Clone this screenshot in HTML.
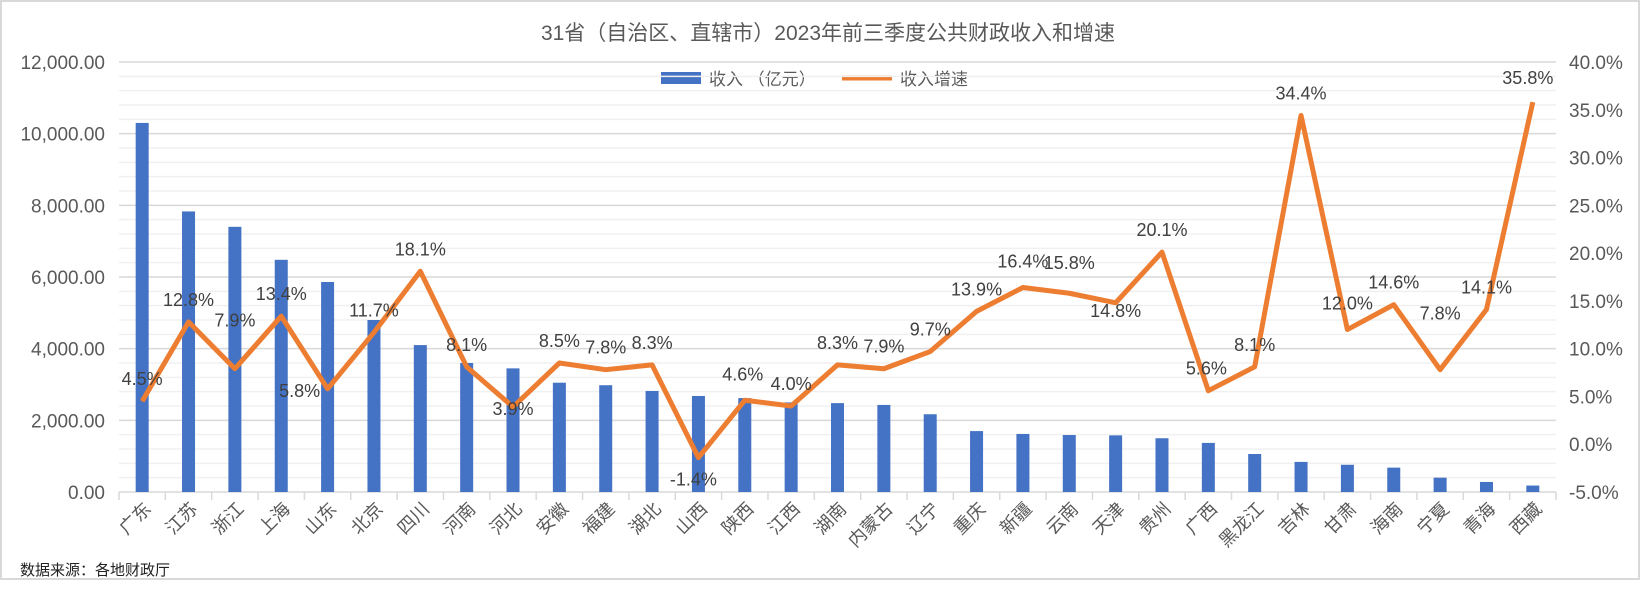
<!DOCTYPE html>
<html><head><meta charset="utf-8"><style>
body{margin:0;background:#fff;width:1641px;height:608px;overflow:hidden}
svg text{font-family:"Liberation Sans","Noto Sans CJK SC",sans-serif}
</style></head><body>
<svg id="chart" width="1641" height="608" xmlns="http://www.w3.org/2000/svg">
<rect x="1" y="1" width="1638" height="578" fill="#fff" stroke="#d9d9d9" stroke-width="2"/>
<text x="828" y="40" text-anchor="middle" font-size="21" fill="#595959">31省（自治区、直辖市）2023年前三季度公共财政收入和增速</text>
<g>
<rect x="661" y="72" width="40" height="12" fill="#4472c4"/>
<text x="709" y="85" font-size="17" fill="#595959">收入 （亿元）</text>
<line x1="842" y1="78" x2="892" y2="78" stroke="#ed7d31" stroke-width="5"/>
<text x="900" y="85" font-size="17" fill="#595959">收入增速</text>
</g>
<text x="20" y="575" font-size="15" fill="#222">数据来源：各地财政厅</text>
</svg>
<script>
const categories=["广东","江苏","浙江","上海","山东","北京","四川","河南","河北","安徽","福建","湖北","山西","陕西","江西","湖南","内蒙古","辽宁","重庆","新疆","云南","天津","贵州","广西","黑龙江","吉林","甘肃","海南","宁夏","青海","西藏"];
const revenue=[10300,7830,7400,6480,5860,4800,4100,3600,3450,3050,2980,2820,2680,2620,2500,2480,2430,2170,1700,1620,1590,1580,1500,1370,1060,840,760,680,400,280,180];
const growth=[4.5,12.8,7.9,13.4,5.8,11.7,18.1,8.1,3.9,8.5,7.8,8.3,-1.4,4.6,4.0,8.3,7.9,9.7,13.9,16.4,15.8,14.8,20.1,5.6,8.1,34.4,12.0,14.6,7.8,14.1,35.8];
const leftTicks=[0,2000,4000,6000,8000,10000,12000];
const rightTicks=[-5,0,5,10,15,20,25,30,35,40];

const svg=document.getElementById('chart');
const NS='http://www.w3.org/2000/svg';
const X0=119,X1=1556,Y0=492,Y1=62;
const slot=(X1-X0)/categories.length;
const xc=i=>X0+slot*(i+0.5);
const yL=v=>Y0-(v/12000)*(Y0-Y1);
const yR=v=>Y0-((v+5)/45)*(Y0-Y1);
function mk(tag,attrs,parent){const e=document.createElementNS(NS,tag);for(const k in attrs)e.setAttribute(k,attrs[k]);(parent||svg).appendChild(e);return e;}
for(let v=400;v<12000;v+=400){if(v%2000===0)continue;
 const l=mk('line',{x1:X0,x2:X1,y1:yL(v),y2:yL(v),stroke:'#f0f0f0','stroke-width':1.5});
 
 }
leftTicks.forEach(v=>{
 const l=mk('line',{x1:X0,x2:X1,y1:yL(v),y2:yL(v),stroke:'#d9d9d9','stroke-width':1.5});
 
 
 const t=mk('text',{x:105,y:yL(v)+7,'text-anchor':'end','font-size':19,fill:'#595959'});
 t.textContent=v.toLocaleString('en-US',{minimumFractionDigits:2});
 
 
});
rightTicks.forEach(v=>{
 const t=mk('text',{x:1569,y:yR(v)+7,'font-size':19,fill:'#595959'});
 t.textContent=v.toFixed(1)+'%';
 
 
});
for(let i=0;i<=categories.length;i++){const x=X0+slot*i;
 const l=mk('line',{x1:x,x2:x,y1:Y0,y2:Y0+8,stroke:'#d9d9d9','stroke-width':1.5});
 
 }
categories.forEach((c,i)=>{
 const b=mk('rect',{x:xc(i)-6.5,y:yL(revenue[i]),width:13,height:Y0-yL(revenue[i]),fill:'#4472c4'});
 
 
 const t=mk('text',{x:xc(i)+10,y:Y0+18,'text-anchor':'end','font-size':18,fill:'#595959',transform:`rotate(-45 ${xc(i)+10} ${Y0+18})`});
 t.textContent=c;
 
 
});
const p=mk('polyline',{points:growth.map((g,i)=>xc(i)+','+yR(g)).join(' '),fill:'none',stroke:'#ed7d31','stroke-width':5,'stroke-linejoin':'round'});


const offX=[0,0,0,0,-28,0,0,0,0,0,0,0,-5,-2,0,0,0,0,0,0,0,0,0,-2,0,0,0,0,0,0,-5];
const offY=[-22,-22,-48,-22,2,-22,-22,-22,2,-22,-22,-22,22,-26,-22,-22,-22,-22,-22,-26,-30,8,-22,-22,-22,-22,-26,-22,-56,-22,-24];
growth.forEach((g,i)=>{
 const t=mk('text',{x:xc(i)+offX[i],y:yR(g)+offY[i]+6,'text-anchor':'middle','font-size':18,fill:'#404040'});
 t.textContent=g.toFixed(1)+'%';
 
 
});
</script>
</body></html>
